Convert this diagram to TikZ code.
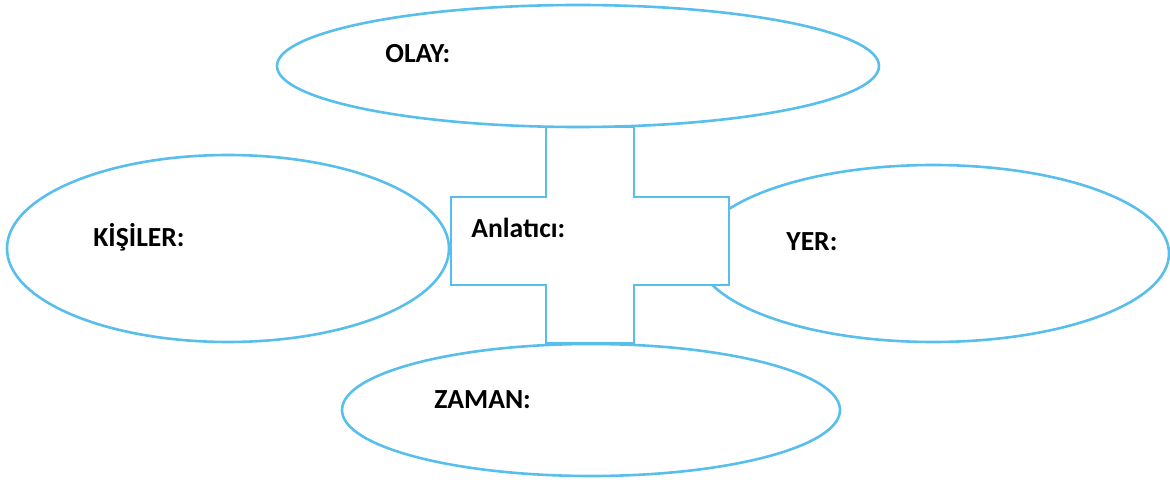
\documentclass[tikz,border=0pt]{standalone}
\usepackage{fontspec}
\setmainfont{Carlito}
\usetikzlibrary{shapes.geometric}
\definecolor{lineBlue}{RGB}{88,190,235}
\tikzset{
  bubble/.style={ellipse, draw=lineBlue, line width=1.3pt, inner sep=0pt},
  crossShape/.style={draw=lineBlue, fill=white, line width=1.3pt, line join=miter},
  lbl/.style={anchor=base west, inner sep=0pt, font=\fontsize{13.8}{16}\selectfont\bfseries}
}
\newcommand{\Bubble}[5]{% #1=name, #2=x, #3=y, #4=width, #5=height (px)
  \node[bubble, minimum width=#4*0.5pt, minimum height=#5*0.5pt] (#1) at (#2,#3) {};}

\begin{document}
\begin{tikzpicture}[x=0.5pt, y=-0.5pt]
  \useasboundingbox (0,0) rectangle (1170,480);
  % right bubble lies under the cross
  \Bubble{yer}{933}{253.5}{472}{177}
  % cross in the middle
  \draw[crossShape] (546,127) -- (634,127) -- (634,197) -- (729,197) -- (729,285)
    -- (634,285) -- (634,343) -- (546,343) -- (546,285) -- (451,285)
    -- (451,197) -- (546,197) -- cycle;
  % other bubbles
  \Bubble{olay}{578}{66}{602}{122}
  \Bubble{kisiler}{228}{248.5}{442}{187}
  \Bubble{zaman}{591}{410}{498}{132}

  % --- labels ---
  \node[lbl] (olayText) at (385,63) {OLAY:};
  \node[lbl] (kisilerText) at (93,247) {KİŞİLER:};
  \node[lbl] (anlaticiText) at (471,238) {Anlatıcı:};
  \node[lbl] (yerText) at (786,251) {YER:};
  \node[lbl] (zamanText) at (434,408) {ZAMAN:};
\end{tikzpicture}
\end{document}
